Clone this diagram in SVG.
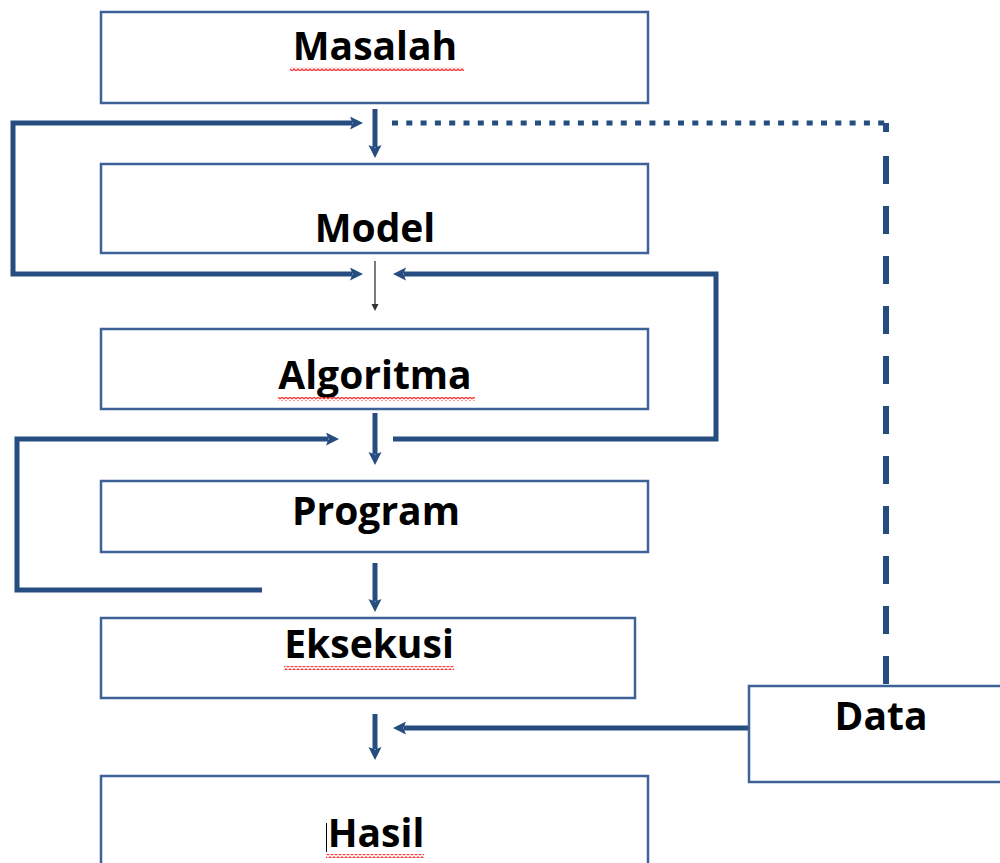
<svg xmlns="http://www.w3.org/2000/svg" width="1000" height="863" viewBox="0 0 1000 863">
  <style>
    .box { fill: #ffffff; stroke: #3e6297; stroke-width: 2.5; }
    .lbl { font-family: "Open Sans", "Liberation Sans", sans-serif; font-weight: bold; font-size: 39px; fill: #000000; text-anchor: middle; }
    .flow { fill: none; stroke: #264d80; stroke-width: 5; stroke-linejoin: miter; }
    .thin { fill: none; stroke: #333333; stroke-width: 1.3; }
    .dots { fill: none; stroke: #264d80; stroke-width: 5; stroke-dasharray: 6 8.3; }
    .dash { fill: none; stroke: #264d80; stroke-width: 6; stroke-dasharray: 28 22; }
    .squiggle { fill: url(#wave); }
  </style>
  <defs>
    <marker id="head" markerUnits="userSpaceOnUse" markerWidth="14" markerHeight="14" refX="2" refY="6.5" orient="auto-start-reverse">
      <path d="M0,0 L13,6.5 L0,13 L2.5,6.5 Z" fill="#264d80"/>
    </marker>
    <marker id="headSmall" markerUnits="userSpaceOnUse" markerWidth="8" markerHeight="8" refX="1" refY="3.5" orient="auto">
      <path d="M0,0 L7,3.5 L0,7 Z" fill="#333333"/>
    </marker>
    <pattern id="wave" patternUnits="userSpaceOnUse" width="4" height="4">
      <path d="M0,3 L2,1 L4,3" fill="none" stroke="#ff3a3a" stroke-width="1.3"/>
    </pattern>
  </defs>

  <rect width="1000" height="863" fill="#ffffff"/>

  <g id="connectors">
    <!-- straight flow down the column -->
    <path class="flow" d="M375,109 V147" marker-end="url(#head)"/>
    <path class="thin" d="M375,261 V305" marker-end="url(#headSmall)"/>
    <path class="flow" d="M375,413 V454" marker-end="url(#head)"/>
    <path class="flow" d="M375,563 V601" marker-end="url(#head)"/>
    <path class="flow" d="M375,714 V749" marker-end="url(#head)"/>
    <!-- feedback loop on the left, Model back to Model input -->
    <path class="flow" d="M352,274 H13 V123 H352" marker-start="url(#head)" marker-end="url(#head)"/>
    <!-- feedback loop on the right, Algoritma output to Algoritma input -->
    <path class="flow" d="M404,274 H716 V439 H393" marker-start="url(#head)"/>
    <!-- feedback loop from Program output back to Program input -->
    <path class="flow" d="M262,590 H17 V439 H328" marker-end="url(#head)"/>
    <!-- Data feeds execution -->
    <path class="flow" d="M749,728 H404" marker-end="url(#head)"/>
    <!-- Data link up to the problem -->
    <path class="dots" d="M392,123 H886"/>
    <path fill="none" stroke="#264d80" stroke-width="6" d="M886,123 V132"/>
    <path class="dash" d="M886,156 V686"/>
  </g>

  <g id="masalah">
    <rect class="box" x="101" y="12" width="547" height="91"/>
    <text class="lbl" x="375" y="60">Masalah</text>
    <rect class="squiggle" x="290" y="67" width="174" height="4"/>
  </g>

  <g id="model">
    <rect class="box" x="101" y="164" width="547" height="89"/>
    <text class="lbl" x="375" y="242">Model</text>
  </g>

  <g id="algoritma">
    <rect class="box" x="101" y="329" width="547" height="80"/>
    <text class="lbl" x="375" y="389">Algoritma</text>
    <rect class="squiggle" x="278" y="397" width="197" height="4"/>
  </g>

  <g id="program">
    <rect class="box" x="101" y="481" width="547" height="71"/>
    <text class="lbl" x="376" y="525">Program</text>
  </g>

  <g id="eksekusi">
    <rect class="box" x="101" y="618" width="534" height="80"/>
    <text class="lbl" x="369" y="658">Eksekusi</text>
    <rect class="squiggle" x="284" y="666" width="170" height="4"/>
  </g>

  <g id="hasil">
    <rect class="box" x="101" y="776" width="547" height="100"/>
    <text class="lbl" x="376" y="847">Hasil</text>
    <rect class="squiggle" x="326" y="854" width="98" height="4"/>
    <path d="M326.5,823 V852" stroke="#000000" stroke-width="1"/>
  </g>

  <g id="data">
    <rect class="box" x="749" y="686" width="270" height="96"/>
    <text class="lbl" x="881" y="730">Data</text>
  </g>
</svg>
